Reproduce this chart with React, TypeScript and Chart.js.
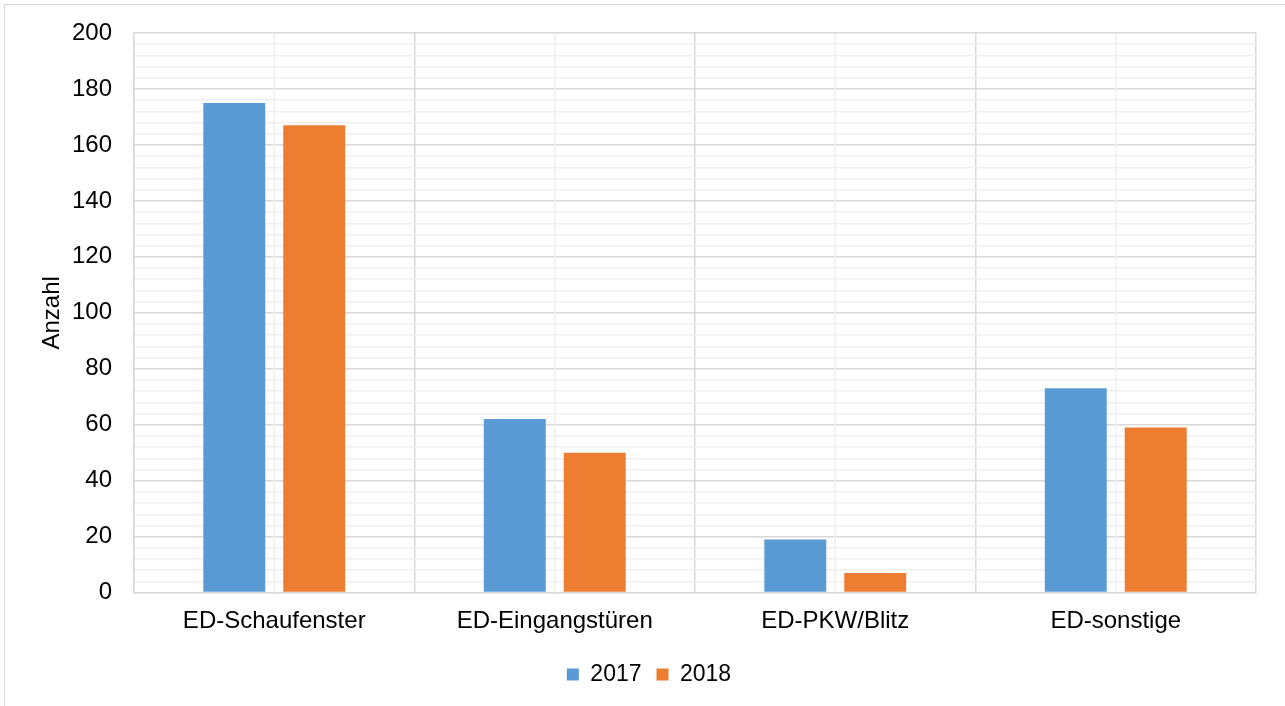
import React, { useEffect, useRef } from "react";
import { Chart, registerables } from "chart.js";

Chart.register(...registerables);

const categories = ["ED-Schaufenster", "ED-Eingangstüren", "ED-PKW/Blitz", "ED-sonstige"];
const values2017 = [175, 62, 19, 73];
const values2018 = [167, 50, 7, 59];
const seriesLabels = ["2017", "2018"];
const yAxisTitle = "Anzahl";

const FONT = "'Liberation Sans', Arial, sans-serif";
const MAJOR = "#d9d9d9";
const MINOR = "#efefef";
const PAD_LEFT = 42;

const centerLines = {
  id: "centerLines",
  beforeDatasetsDraw(chart: any) {
    const x = chart.scales.x;
    const area = chart.chartArea;
    const ctx = chart.ctx;
    ctx.save();
    ctx.strokeStyle = MINOR;
    ctx.lineWidth = 1.5;
    for (let i = 0; i < categories.length; i++) {
      const px = x.getPixelForValue(i);
      ctx.beginPath();
      ctx.moveTo(px, area.top);
      ctx.lineTo(px, area.bottom);
      ctx.stroke();
    }
    ctx.restore();
  },
};

export default function App() {
  const ref = useRef<HTMLCanvasElement>(null);
  useEffect(() => {
    document.body.style.margin = "0";
    const chart = new Chart(ref.current as HTMLCanvasElement, {
      type: "bar",
      data: {
        labels: categories,
        datasets: [
          {
            label: seriesLabels[0],
            data: values2017,
            backgroundColor: "#5B9BD5",
            categoryPercentage: 0.57,
            barPercentage: 0.775,
          },
          {
            label: seriesLabels[1],
            data: values2018,
            backgroundColor: "#ED7D31",
            categoryPercentage: 0.57,
            barPercentage: 0.775,
          },
        ],
      },
      options: {
        animation: false,
        responsive: false,
        maintainAspectRatio: false,
        layout: { padding: { left: PAD_LEFT, top: 33, right: 29, bottom: 10 } },
        plugins: {
          tooltip: { enabled: false },
          legend: {
            position: "bottom",
            labels: {
              boxWidth: 12,
              boxHeight: 12,
              padding: 15,
              color: "#000",
              font: { family: FONT, size: 23 },
            },
          },
        },
        scales: {
          x: {
            grid: { color: MAJOR, lineWidth: 1.5, drawTicks: false, offset: true },
            border: { color: MAJOR, width: 1.5 },
            ticks: {
              color: "#000",
              padding: 14,
              font: { family: FONT, size: 24 },
              maxRotation: 0,
            },
            afterFit: (s: any) => {
              s.height = 55.4;
            },
          },
          y: {
            min: 0,
            max: 200,
            grid: {
              drawTicks: false,
              color: (c: any) => (c.tick && c.tick.value % 20 === 0 ? MAJOR : MINOR),
              lineWidth: 1.5,
            },
            border: { color: MAJOR, width: 1.5 },
            ticks: {
              stepSize: 4,
              autoSkip: false,
              color: "#000",
              padding: 22,
              font: { family: FONT, size: 24 },
              callback: (v: any) => (Number(v) % 20 === 0 ? String(v) : ""),
            },
            title: {
              display: true,
              text: yAxisTitle,
              color: "#000",
              padding: { top: -4.4, bottom: 0 },
              font: { family: FONT, size: 24 },
            },
            afterFit: (s: any) => {
              s.width = 134 - PAD_LEFT;
              s.paddingTop = 0;
              s.paddingBottom = 0;
            },
          },
        },
      },
      plugins: [centerLines],
    });
    return () => chart.destroy();
  }, []);
  return (
    <div style={{ position: "relative", width: 1285, height: 706, overflow: "hidden", background: "#fff" }}>
      <div
        style={{
          position: "absolute",
          left: 4,
          top: 4,
          width: 1300,
          height: 720,
          border: "1.5px solid #d9d9d9",
          boxSizing: "border-box",
        }}
      />
      <canvas
        ref={ref}
        width={1285}
        height={706}
        style={{ position: "absolute", left: 0, top: 0, width: 1285, height: 706 }}
      />
    </div>
  );
}
